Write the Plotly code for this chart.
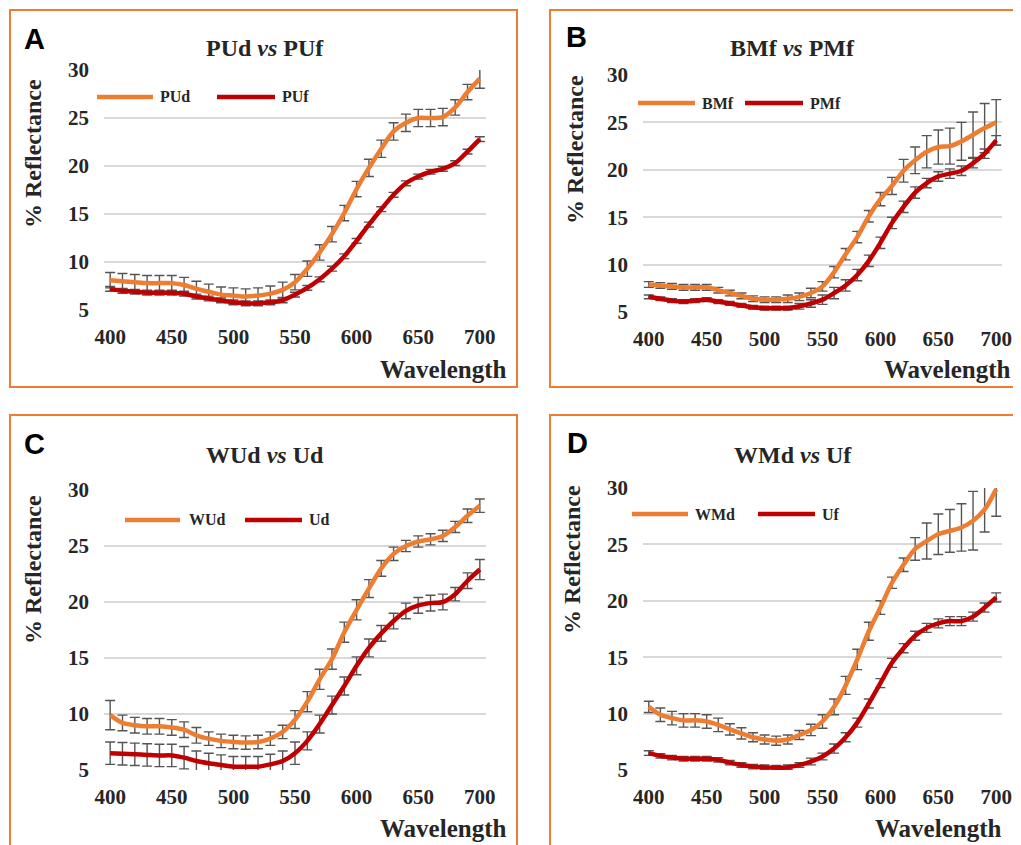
import plotly.graph_objects as go

# Page body adds an 8px margin, so the figure is drawn 8px smaller and all
# layout positions below are given in screen pixels and shifted by OFF.
OFF = 8
W, H = 1013, 837

wavelength = [400, 410, 420, 430, 440, 450, 460, 470, 480, 490, 500, 510, 520, 530, 540, 550,
              560, 570, 580, 590, 600, 610, 620, 630, 640, 650, 660, 670, 680, 690, 700]

# Panel A
PUd = [8.1, 8.0, 7.9, 7.8, 7.8, 7.8, 7.6, 7.2, 6.9, 6.6, 6.5, 6.4, 6.5, 6.7, 7.1, 7.9,
       9.3, 11.0, 12.9, 15.1, 17.6, 19.8, 21.8, 23.6, 24.5, 25.0, 25.0, 25.1, 26.1, 27.7, 29.1]
PUd_err = [0.8, 0.8, 0.8, 0.8, 0.8, 0.8, 0.8, 0.8, 0.8, 0.8, 0.8, 0.8, 0.8, 0.8, 0.8, 0.8,
           0.8, 0.8, 0.8, 0.8, 0.8, 0.9, 0.9, 0.9, 0.9, 0.9, 0.9, 0.9, 0.8, 0.8, 1.0]
PUf = [7.2, 7.0, 6.9, 6.8, 6.8, 6.8, 6.7, 6.4, 6.2, 6.0, 5.8, 5.7, 5.7, 5.8, 6.0, 6.6,
       7.3, 8.2, 9.3, 10.6, 12.2, 13.9, 15.5, 17.0, 18.2, 18.9, 19.4, 19.7, 20.3, 21.5, 22.8]
PUf_err = [0.25, 0.25, 0.25, 0.25, 0.25, 0.25, 0.25, 0.25, 0.25, 0.25, 0.25, 0.25, 0.25, 0.25, 0.25, 0.25,
           0.25, 0.25, 0.25, 0.25, 0.25, 0.25, 0.25, 0.25, 0.25, 0.25, 0.25, 0.25, 0.25, 0.25, 0.25]

# Panel B
BMf = [7.9, 7.8, 7.7, 7.6, 7.6, 7.6, 7.3, 7.0, 6.7, 6.4, 6.3, 6.3, 6.4, 6.6, 7.0, 7.7,
       9.2, 11.1, 12.9, 15.1, 16.9, 18.3, 19.9, 21.0, 21.9, 22.4, 22.5, 23.0, 23.7, 24.4, 25.0]
BMf_err = [0.3, 0.3, 0.3, 0.3, 0.3, 0.3, 0.3, 0.3, 0.3, 0.3, 0.3, 0.3, 0.4, 0.4, 0.5, 0.5,
           0.6, 0.6, 0.6, 0.6, 0.7, 0.9, 1.2, 1.4, 1.7, 1.8, 1.9, 2.0, 2.4, 2.6, 2.4]
PMf = [6.6, 6.4, 6.2, 6.1, 6.2, 6.3, 6.1, 5.9, 5.7, 5.5, 5.4, 5.4, 5.4, 5.6, 5.9, 6.3,
       7.0, 7.8, 8.9, 10.4, 12.3, 14.4, 16.1, 17.6, 18.6, 19.3, 19.6, 19.9, 20.7, 21.7, 23.1]
PMf_err = [0.2, 0.2, 0.2, 0.2, 0.2, 0.2, 0.2, 0.2, 0.2, 0.2, 0.2, 0.2, 0.2, 0.3, 0.4, 0.5,
           0.6, 0.6, 0.6, 0.6, 0.6, 0.6, 0.6, 0.6, 0.5, 0.5, 0.5, 0.5, 0.5, 0.5, 0.5]

# Panel C
WUd = [9.9, 9.2, 9.0, 8.9, 8.9, 8.8, 8.6, 8.1, 7.8, 7.6, 7.5, 7.45, 7.5, 7.8, 8.4, 9.5,
       11.1, 13.1, 14.9, 17.3, 19.3, 21.2, 23.0, 24.3, 25.0, 25.4, 25.6, 25.9, 26.7, 27.7, 28.6]
WUd_err = [1.3, 0.7, 0.7, 0.7, 0.7, 0.7, 0.7, 0.7, 0.6, 0.6, 0.6, 0.6, 0.6, 0.6, 0.6, 0.8,
           0.9, 0.9, 0.9, 0.9, 0.9, 0.8, 0.7, 0.6, 0.5, 0.5, 0.5, 0.5, 0.5, 0.6, 0.6]
Ud = [6.5, 6.45, 6.4, 6.35, 6.3, 6.3, 6.1, 5.8, 5.6, 5.45, 5.3, 5.3, 5.3, 5.5, 5.8, 6.5,
      7.6, 9.1, 10.8, 12.5, 14.3, 15.9, 17.2, 18.3, 19.2, 19.7, 19.9, 20.0, 20.7, 21.9, 22.9]
Ud_err = [1.0, 1.0, 1.0, 1.0, 1.0, 1.0, 1.0, 0.9, 0.9, 0.9, 0.9, 0.9, 0.9, 0.9, 0.9, 1.0,
          0.8, 0.8, 0.8, 0.8, 0.8, 0.8, 0.7, 0.7, 0.7, 0.7, 0.7, 0.7, 0.6, 0.7, 0.9]

# Panel D
WMd = [10.6, 9.9, 9.6, 9.4, 9.4, 9.3, 9.0, 8.6, 8.25, 7.9, 7.7, 7.6, 7.7, 8.1, 8.55, 9.3,
       10.6, 12.5, 14.8, 17.3, 19.4, 21.6, 23.2, 24.6, 25.3, 25.9, 26.2, 26.5, 27.1, 28.1, 29.9]
WMd_err = [0.5, 0.6, 0.6, 0.6, 0.6, 0.6, 0.6, 0.5, 0.5, 0.4, 0.4, 0.4, 0.4, 0.4, 0.5, 0.6,
           0.7, 0.8, 0.9, 0.8, 0.6, 0.5, 0.6, 1.0, 1.6, 1.8, 1.9, 2.1, 2.6, 2.0, 2.4]
Uf = [6.5, 6.25, 6.1, 6.0, 6.0, 6.0, 5.9, 5.65, 5.45, 5.3, 5.25, 5.2, 5.25, 5.45, 5.75, 6.2,
      6.9, 7.9, 9.2, 10.9, 12.7, 14.5, 15.8, 16.9, 17.6, 18.0, 18.2, 18.2, 18.6, 19.4, 20.3]
Uf_err = [0.2, 0.2, 0.2, 0.2, 0.2, 0.2, 0.2, 0.2, 0.2, 0.2, 0.2, 0.2, 0.2, 0.2, 0.3, 0.3,
          0.4, 0.4, 0.4, 0.4, 0.4, 0.4, 0.4, 0.4, 0.4, 0.4, 0.4, 0.4, 0.4, 0.4, 0.4]

x_ticks = [400, 450, 500, 550, 600, 650, 700]
y_ticks = [5, 10, 15, 20, 25, 30]

ORANGE = "#ED7D31"
RED = "#C00000"
ERR = "#555555"
GRID = "#D9D9D9"
SERIF = "Liberation Serif"

panels = [
    dict(letter="A", title="PUd <i>vs</i> PUf", names=("PUd", "PUf"),
         series=(PUd, PUf), errs=(PUd_err, PUf_err),
         box=(10, 10, 517, 387), plot=(104, 70, 486, 310),
         letter_xy=(34, 39), title_xy=(265, 48), ytitle_xy=(33, 154),
         wl_xy=(508, 370), leg=((97, 153, 158), (217, 275, 280), 97)),
    dict(letter="B", title="BMf <i>vs</i> PMf", names=("BMf", "PMf"),
         series=(BMf, PMf), errs=(BMf_err, PMf_err),
         box=(550, 10, 1030, 387), plot=(643, 75, 1002, 312),
         letter_xy=(576, 37), title_xy=(792, 48), ytitle_xy=(575, 150),
         wl_xy=(1012, 370), leg=((638, 695, 700), (745, 803, 808), 103)),
    dict(letter="C", title="WUd <i>vs</i> Ud", names=("WUd", "Ud"),
         series=(WUd, Ud), errs=(WUd_err, Ud_err),
         box=(10, 415, 517, 860), plot=(104, 490, 486, 770),
         letter_xy=(34, 444), title_xy=(265, 455), ytitle_xy=(33, 570),
         wl_xy=(508, 828), leg=((125, 180, 187), (245, 302, 307), 520)),
    dict(letter="D", title="WMd <i>vs</i> Uf", names=("WMd", "Uf"),
         series=(WMd, Uf), errs=(WMd_err, Uf_err),
         box=(550, 415, 1030, 860), plot=(643, 488, 1002, 770),
         letter_xy=(577, 443), title_xy=(793, 455), ytitle_xy=(572, 560),
         wl_xy=(1003, 828), leg=((632, 688, 693), (758, 815, 820), 514)),
]


def px(x):
    return (x - OFF) / W


def py(y):
    return 1 - (y - OFF) / H


fig = go.Figure()
shapes = []
annotations = []
layout_axes = {}

for i, p in enumerate(panels):
    n = i + 1
    xa = "x" if n == 1 else f"x{n}"
    ya = "y" if n == 1 else f"y{n}"
    xkey = "xaxis" if n == 1 else f"xaxis{n}"
    ykey = "yaxis" if n == 1 else f"yaxis{n}"
    x0, y0, x1, y1 = p["plot"]

    for vals, errs, name, color in zip(p["series"], p["errs"], p["names"], (ORANGE, RED)):
        fig.add_trace(go.Scatter(
            x=wavelength, y=vals, name=name, mode="lines",
            line=dict(color=color, width=4.5, shape="spline", smoothing=0.8),
            error_y=dict(type="data", array=errs, visible=True, color=ERR,
                         thickness=1.4, width=5),
            xaxis=xa, yaxis=ya, showlegend=False,
        ))

    layout_axes[xkey] = dict(
        domain=[px(x0), px(x1)], range=[395, 705], anchor=ya, automargin=False,
        tickvals=x_ticks, showgrid=False, zeroline=False, showline=False,
        ticks="", ticklabelstandoff=12,
        tickfont=dict(family=SERIF, size=21, color="#262626", weight="bold"),
    )
    layout_axes[ykey] = dict(
        domain=[py(y1), py(y0)], range=[5, 30], anchor=xa, automargin=False,
        tickvals=y_ticks, showgrid=True, gridcolor=GRID, gridwidth=1.6,
        zeroline=False, showline=False, ticks="", ticklabelstandoff=14,
        tickfont=dict(family=SERIF, size=21, color="#262626", weight="bold"),
    )

    bx0, by0, bx1, by1 = p["box"]
    shapes.append(dict(type="rect", xref="paper", yref="paper",
                       x0=px(bx0), x1=px(bx1), y0=py(by1), y1=py(by0),
                       line=dict(color=ORANGE, width=2), fillcolor="rgba(0,0,0,0)"))

    # legend (drawn manually to match the long sample lines of the original)
    (o0, o1, ot), (r0, r1, rt), ly = p["leg"]
    for (l0, l1, lt), name, color in zip(((o0, o1, ot), (r0, r1, rt)), p["names"], (ORANGE, RED)):
        shapes.append(dict(type="line", xref="paper", yref="paper",
                           x0=px(l0), x1=px(l1), y0=py(ly), y1=py(ly),
                           line=dict(color=color, width=4.5)))
        annotations.append(dict(text=name, xref="paper", yref="paper",
                                x=px(lt), y=py(ly), xanchor="left", yanchor="middle",
                                showarrow=False,
                                font=dict(family=SERIF, size=16, color="#262626", weight="bold")))

    lx, lyy = p["letter_xy"]
    annotations.append(dict(text=p["letter"], xref="paper", yref="paper",
                            x=px(lx), y=py(lyy), xanchor="center", yanchor="middle",
                            showarrow=False,
                            font=dict(family="Liberation Sans", size=29, color="black", weight="bold")))
    tx, ty = p["title_xy"]
    annotations.append(dict(text=p["title"], xref="paper", yref="paper",
                            x=px(tx), y=py(ty), xanchor="center", yanchor="middle",
                            showarrow=False,
                            font=dict(family=SERIF, size=24, color="#262626", weight="bold")))
    yx, yy = p["ytitle_xy"]
    annotations.append(dict(text="% Reflectance", xref="paper", yref="paper",
                            x=px(yx), y=py(yy), xanchor="center", yanchor="middle",
                            textangle=-90, showarrow=False,
                            font=dict(family=SERIF, size=24, color="#262626", weight="bold")))
    wx, wy = p["wl_xy"]
    annotations.append(dict(text="Wavelength", xref="paper", yref="paper",
                            x=px(wx), y=py(wy), xanchor="right", yanchor="middle",
                            showarrow=False,
                            font=dict(family=SERIF, size=25, color="#262626", weight="bold")))

fig.update_layout(
    width=W, height=H, margin=dict(l=0, r=0, t=0, b=0, autoexpand=False),
    paper_bgcolor="white", plot_bgcolor="white",
    shapes=shapes, annotations=annotations, showlegend=False,
    **layout_axes,
)

fig.write_html("out.html")
